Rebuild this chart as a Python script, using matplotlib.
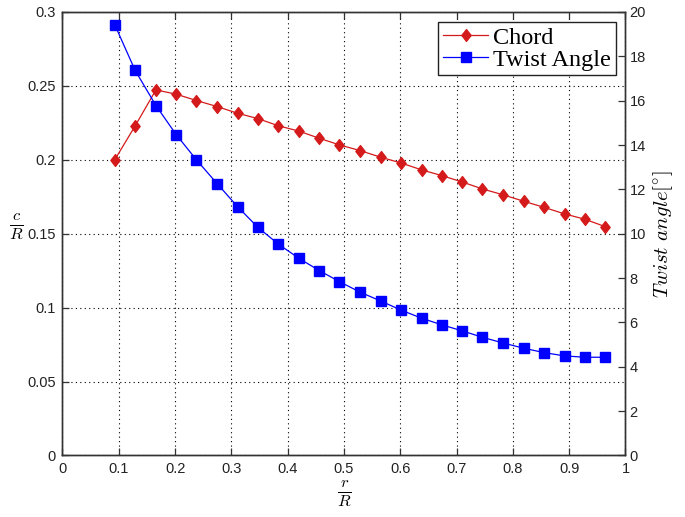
import matplotlib
matplotlib.use('Agg')
import matplotlib.pyplot as plt
from matplotlib.path import Path
import warnings
warnings.filterwarnings('ignore')

# ---- data ----
r_R = [0.093, 0.129, 0.166, 0.202, 0.238, 0.275, 0.311, 0.347, 0.383, 0.420,
       0.456, 0.492, 0.529, 0.565, 0.601, 0.638, 0.674, 0.710, 0.746, 0.783,
       0.819, 0.855, 0.892, 0.928, 0.964]
chord = [0.2001, 0.2229, 0.2473, 0.2444, 0.2401, 0.2360, 0.2315, 0.2279, 0.2231, 0.2194,
         0.2146, 0.2101, 0.2062, 0.2018, 0.1979, 0.1932, 0.1893, 0.1850, 0.1803, 0.1763,
         0.1720, 0.1679, 0.1634, 0.1598, 0.1548]
twist = [19.42, 17.37, 15.78, 14.47, 13.33, 12.25, 11.22, 10.29, 9.54, 8.89,
         8.34, 7.84, 7.36, 6.97, 6.56, 6.19, 5.89, 5.62, 5.33, 5.07,
         4.84, 4.64, 4.49, 4.43, 4.43]
x_ticks = [0, 0.1, 0.2, 0.3, 0.4, 0.5, 0.6, 0.7, 0.8, 0.9, 1]
x_ticklabels = ['0', '0.1', '0.2', '0.3', '0.4', '0.5', '0.6', '0.7', '0.8', '0.9', '1']
left_ticks = [0, 0.05, 0.1, 0.15, 0.2, 0.25, 0.3]
left_ticklabels = ['0', '0.05', '0.1', '0.15', '0.2', '0.25', '0.3']
right_ticks = [0, 2, 4, 6, 8, 10, 12, 14, 16, 18, 20]
right_ticklabels = ['0', '2', '4', '6', '8', '10', '12', '14', '16', '18', '20']
series_names = ['Chord', 'Twist Angle']

plt.rcParams['mathtext.fontset'] = 'cm'
plt.rcParams['font.family'] = ['Liberation Sans', 'DejaVu Sans']

diamond = Path([(0, 1), (0.78, 0), (0, -1), (-0.78, 0), (0, 1)],
               [Path.MOVETO, Path.LINETO, Path.LINETO, Path.LINETO, Path.CLOSEPOLY])

fig = plt.figure(figsize=(6.85, 5.17), dpi=100)
ax = fig.add_axes([0.0912, 0.119, 0.8219, 0.8578])
ax2 = ax.twinx()

red = '#d41a1a'
blue = '#0000ff'
l1, = ax.plot(r_R, chord, color=red, lw=0.9, marker=diamond, markersize=8.5,
              markerfacecolor=red, markeredgecolor=red, zorder=3)
l2, = ax2.plot(r_R, twist, color=blue, lw=0.9, marker='s', markersize=7,
               markerfacecolor=blue, markeredgecolor=blue, zorder=3)

ax.set_xlim(0, 1)
ax.set_ylim(0, 0.3)
ax2.set_ylim(0, 20)
ax.set_xticks(x_ticks)
ax.set_xticklabels(x_ticklabels)
ax.set_yticks(left_ticks)
ax.set_yticklabels(left_ticklabels)
ax2.set_yticks(right_ticks)
ax2.set_yticklabels(right_ticklabels)

for a in (ax, ax2):
    for s in a.spines.values():
        s.set_color('#333333')
        s.set_linewidth(1.0)
ax.tick_params(axis='both', direction='in', length=5, width=0.9, labelsize=10.5,
               top=True, right=False, colors='#333333', labelcolor='#222222', pad=5)
ax2.tick_params(axis='y', direction='in', length=5, width=0.9, labelsize=10.5,
                colors='#333333', labelcolor='#222222', pad=3)
ax.grid(True, linestyle=(0, (1, 3)), color='black', lw=0.8)

ax.set_xlabel(r'$\frac{r}{R}$', fontsize=17, labelpad=2)
ax.set_ylabel(r'$\frac{c}{R}$', fontsize=17, rotation=0, va='center', ha='center')
ax.yaxis.set_label_coords(-0.082, 0.515)
ax2.set_ylabel(r'$Twist\ angle[^{\circ}]$', fontsize=15, labelpad=4)

leg = ax2.legend([l1, l2], series_names, loc='upper right',
                 prop={'family': 'Liberation Serif', 'size': 17.5},
                 fancybox=False, framealpha=1, edgecolor='#222222',
                 borderpad=0.2, labelspacing=0.0, handlelength=1.85,
                 handletextpad=0.2, borderaxespad=0.4)
leg.get_frame().set_linewidth(1.0)

fig.savefig('out.png', dpi=100)
